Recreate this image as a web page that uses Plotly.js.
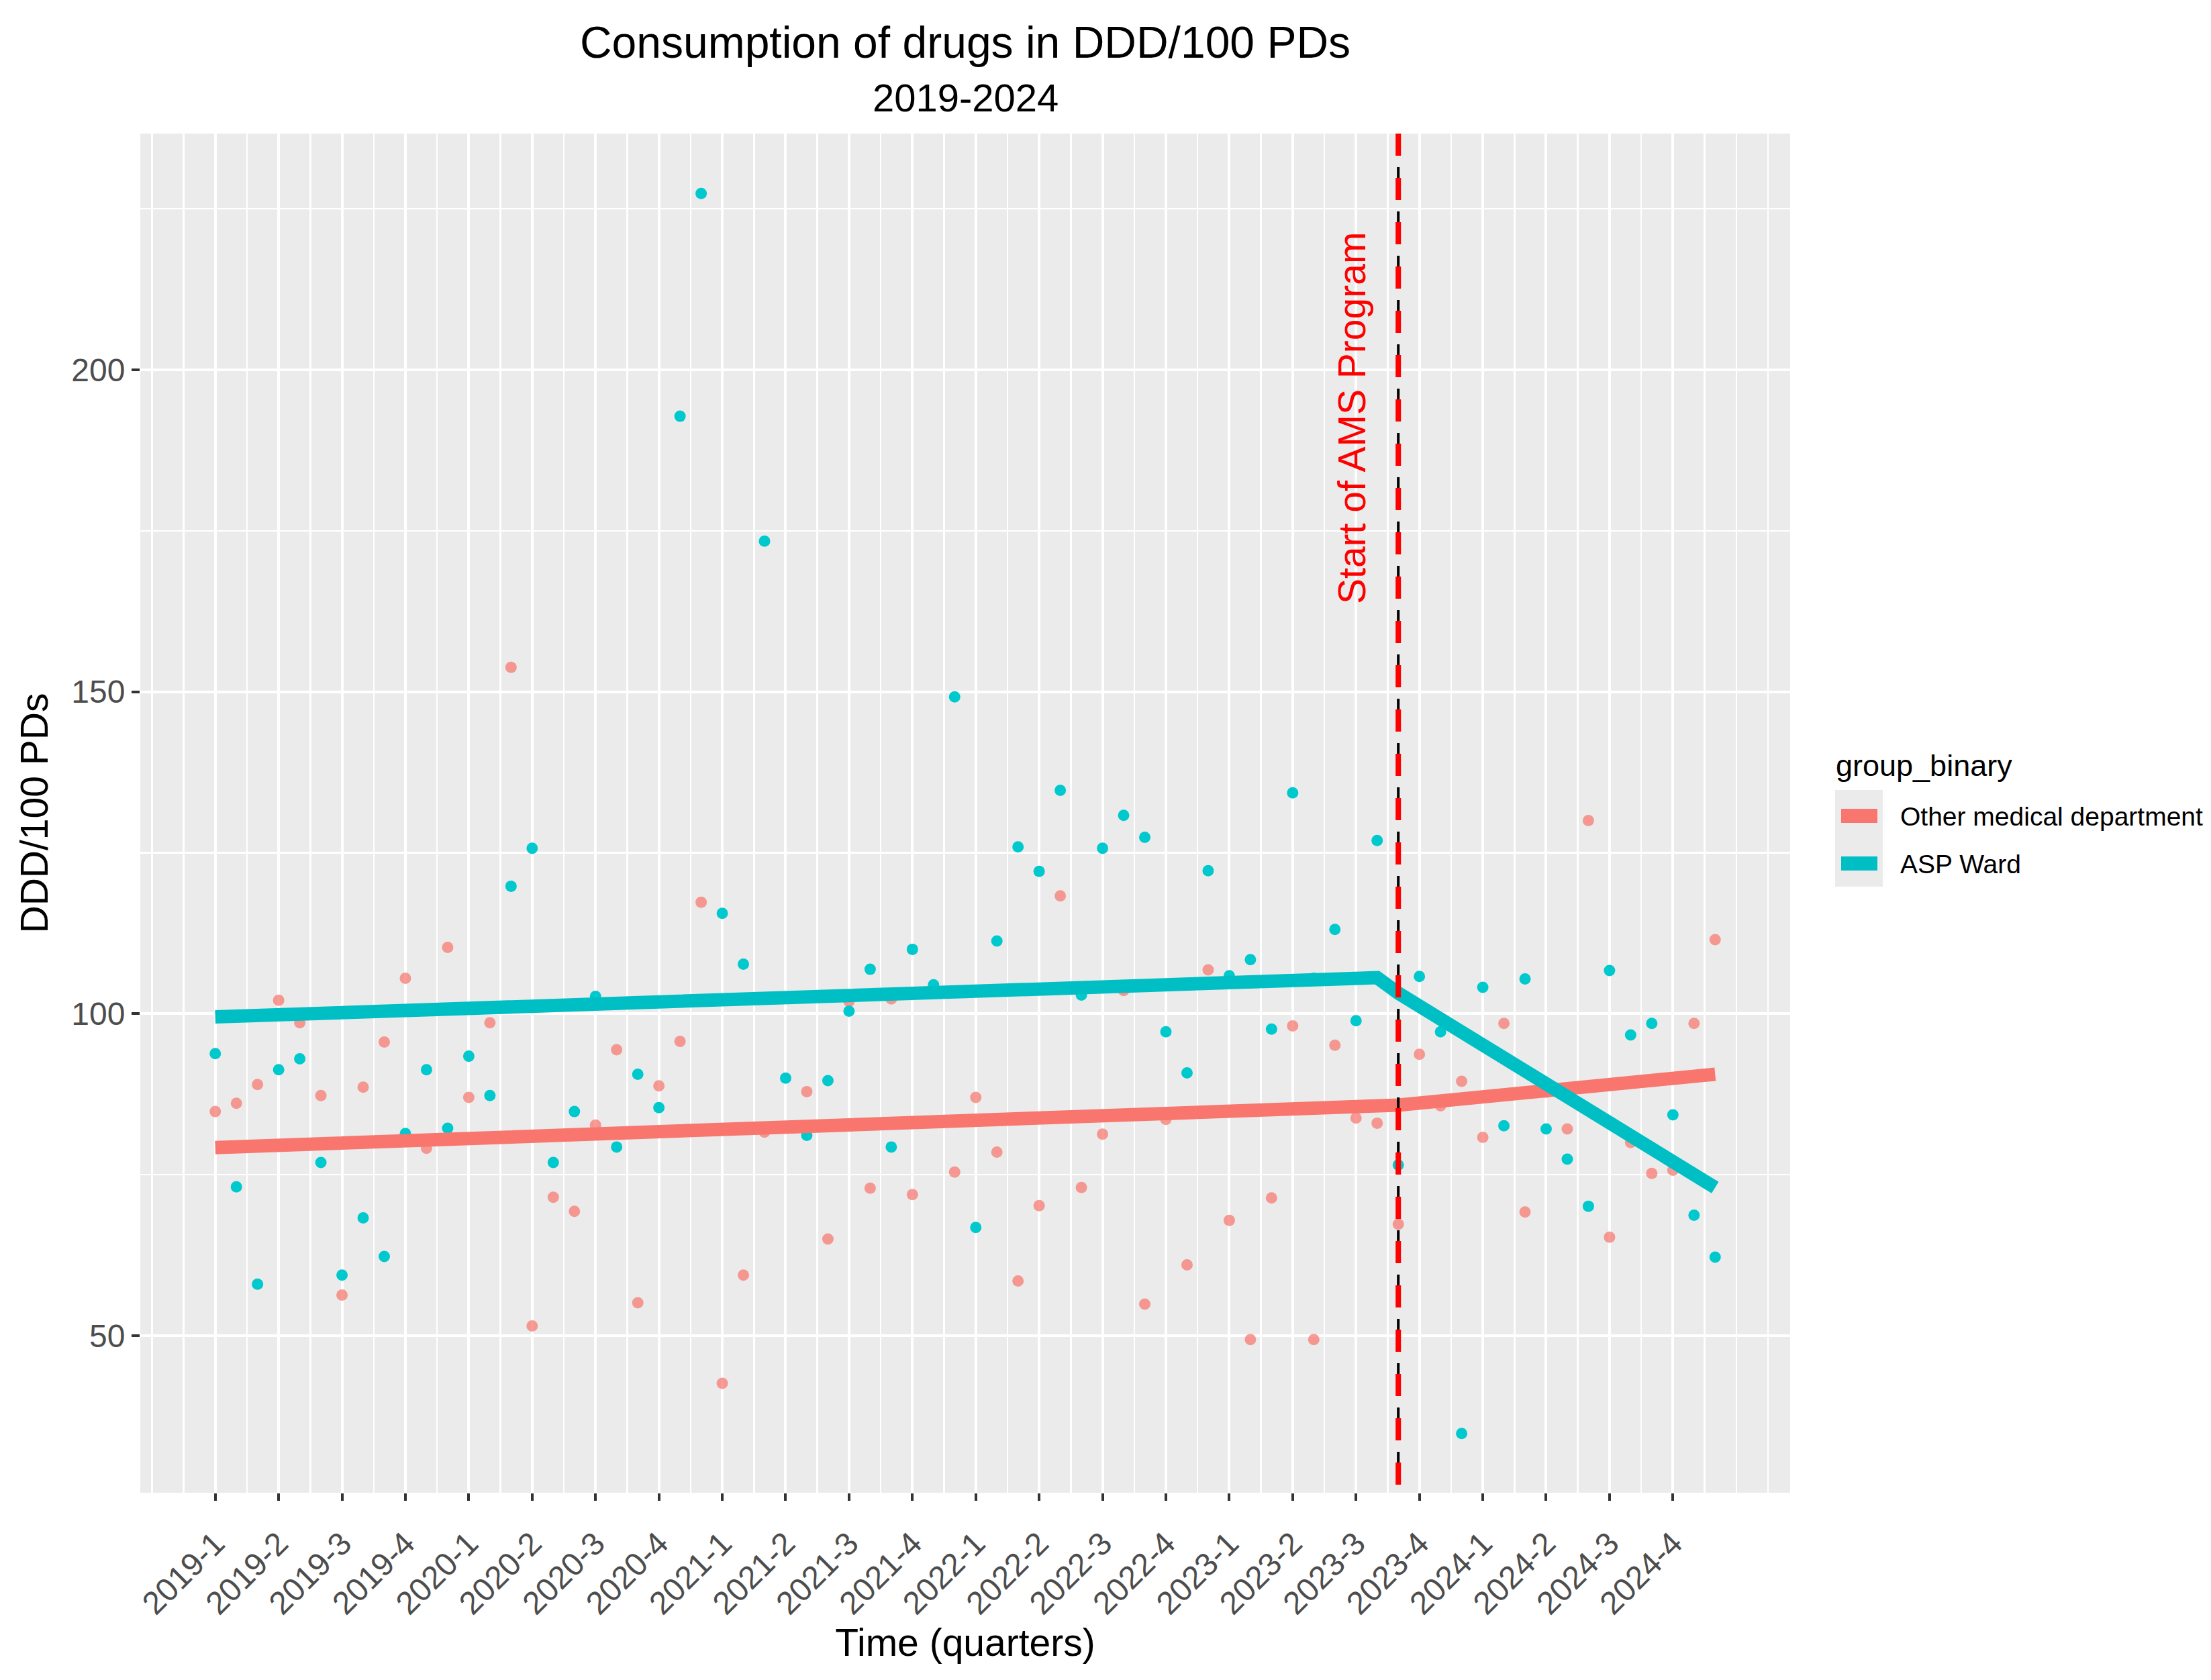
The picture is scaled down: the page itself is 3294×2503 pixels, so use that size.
<!DOCTYPE html>
<html>
<head>
<meta charset="utf-8">
<script src="https://cdn.plot.ly/plotly-3.0.1.min.js"></script>
<style>
  html, body { margin: 0; padding: 0; background: #ffffff; }
  #chart { width: 3294px; height: 2503px; }
</style>
</head>
<body>
<div id="chart"></div>
<script>
"use strict";

// month index, 0 = 2019 January ... 71 = 2024 December
var months = [0,1,2,3,4,5,6,7,8,9,10,11,12,13,14,15,16,17,18,19,20,21,22,23,
              24,25,26,27,28,29,30,31,32,33,34,35,36,37,38,39,40,41,42,43,44,45,46,47,
              48,49,50,51,52,53,54,55,56,57,58,59,60,61,62,63,64,65,66,67,68,69,70,71];

// quarter ticks
var quarterTicks = [0,3,6,9,12,15,18,21,24,27,30,33,36,39,42,45,48,51,54,57,60,63,66,69];
var quarterLabels = ["2019-1","2019-2","2019-3","2019-4","2020-1","2020-2","2020-3","2020-4",
                     "2021-1","2021-2","2021-3","2021-4","2022-1","2022-2","2022-3","2022-4",
                     "2023-1","2023-2","2023-3","2023-4","2024-1","2024-2","2024-3","2024-4"];

var groups = ["Other medical department", "ASP Ward"];

// DDD/100 PDs per month
var otherDept = [84.8,86.1,89.0,102.1,98.6,87.3,56.3,88.6,95.6,105.5,79.1,110.3,
                 87.0,98.6,153.8,51.5,71.5,69.3,82.7,94.4,55.1,88.8,95.7,117.3,
                 42.6,59.4,81.6,82.4,87.9,65.0,101.9,72.9,102.3,71.9,83.3,75.4,
                 87.0,78.5,58.5,70.2,118.3,73.0,81.3,103.6,54.9,83.6,61.0,106.8,
                 67.9,49.4,71.4,98.1,49.4,95.1,83.8,83.0,67.3,93.7,85.7,89.5,
                 80.8,98.5,69.2,87.8,82.1,130.0,65.3,80.0,75.2,75.7,98.5,111.5];

var aspWard = [93.8,73.1,58.0,91.3,93.0,76.9,59.4,68.3,62.3,81.4,91.3,82.2,
               93.4,87.3,119.8,125.7,76.9,84.8,102.7,79.3,90.6,85.4,192.8,227.4,
               115.6,107.7,173.4,90.0,81.1,89.6,100.4,106.9,79.3,110.0,104.5,149.2,
               66.8,111.3,125.9,122.1,134.7,102.9,125.7,130.8,127.4,97.2,90.8,122.2,
               105.9,108.4,97.6,134.3,105.5,113.1,98.9,126.9,76.5,105.8,97.2,34.8,
               104.1,82.6,105.4,82.1,77.4,70.1,106.7,96.7,98.5,84.3,68.7,62.2];

// segmented trend (fitted values at the segment ends)
var fitMonths = [0, 55, 56, 71];
var fitOther = [79.2, 85.5, 85.8, 90.6];
var fitAsp = [99.5, 105.6, 103.2, 73.0];

var amsStart = 56;
var amsLabel = "Start of AMS Program";

var W = 3294, H = 2503;
var plotL = 209, plotR = 2667, plotT = 199, plotB = 2224;
var xRange = [-3.55, 74.55];
var yRange = [25.6, 236.7];
var pxPerUnitY = (plotB - plotT) / (yRange[1] - yRange[0]);

function paperX(p) { return (p - plotL) / (plotR - plotL); }
function paperY(p) { return (plotB - p) / (plotB - plotT); }

var RED = "#F8766D", TEAL = "#00BFC4";
var FONT = "Liberation Sans, Arial, sans-serif";

var traces = [
  {
    type: "scatter", mode: "markers", x: months, y: otherDept, name: groups[0],
    marker: { color: "rgba(248,118,109,0.72)", size: 17, line: { width: 0 } },
    showlegend: false, hoverinfo: "skip"
  },
  {
    type: "scatter", mode: "markers", x: months, y: aspWard, name: groups[1],
    marker: { color: "#00C9CE", size: 17, line: { width: 0 } },
    showlegend: false, hoverinfo: "skip"
  },
  {
    type: "scatter", mode: "lines", x: fitMonths, y: fitOther, name: groups[0],
    line: { color: RED, width: 20 }, showlegend: false, hoverinfo: "skip"
  },
  {
    type: "scatter", mode: "lines", x: fitMonths, y: fitAsp, name: groups[1],
    line: { color: TEAL, width: 20 }, showlegend: false, hoverinfo: "skip"
  },
  // black dashes sit under the red ones, shifted half a dash
  {
    type: "scatter", mode: "lines", x: [amsStart, amsStart],
    y: [yRange[1] + 16 / pxPerUnitY, yRange[0]],
    line: { color: "#000000", width: 4, dash: "33px,33px" },
    showlegend: false, hoverinfo: "skip"
  },
  {
    type: "scatter", mode: "lines", x: [amsStart, amsStart],
    y: [yRange[1], yRange[0]],
    line: { color: "#FF0000", width: 8, dash: "33px,33px" },
    showlegend: false, hoverinfo: "skip"
  }
];

// hand drawn legend in ggplot style
var shapes = [
  { type: "rect", xref: "paper", yref: "paper", layer: "above",
    x0: paperX(2734), x1: paperX(2805), y0: paperY(1177), y1: paperY(1321),
    fillcolor: "#EBEBEB", line: { width: 0 } },
  { type: "rect", xref: "paper", yref: "paper", layer: "above",
    x0: paperX(2743), x1: paperX(2797), y0: paperY(1205), y1: paperY(1226),
    fillcolor: RED, line: { width: 0 } },
  { type: "rect", xref: "paper", yref: "paper", layer: "above",
    x0: paperX(2743), x1: paperX(2797), y0: paperY(1276), y1: paperY(1297),
    fillcolor: TEAL, line: { width: 0 } }
];

var annotations = [
  { text: "2019-2024", xref: "paper", yref: "paper", x: 0.5, y: paperY(145),
    xanchor: "center", yanchor: "middle", showarrow: false,
    font: { family: FONT, size: 58, color: "#000000" } },
  { text: amsLabel, xref: "x", yref: "y", x: 53.8, y: 192.5, textangle: -90,
    xanchor: "center", yanchor: "middle", showarrow: false,
    font: { family: FONT, size: 57, color: "#FF0000" } },
  { text: "group_binary", xref: "paper", yref: "paper", x: paperX(2733), y: paperY(1140),
    xanchor: "left", yanchor: "middle", showarrow: false,
    font: { family: FONT, size: 45, color: "#000000" } },
  { text: groups[0], xref: "paper", yref: "paper", x: paperX(2829), y: paperY(1216),
    xanchor: "left", yanchor: "middle", showarrow: false,
    font: { family: FONT, size: 39, color: "#000000" } },
  { text: groups[1], xref: "paper", yref: "paper", x: paperX(2829), y: paperY(1287),
    xanchor: "left", yanchor: "middle", showarrow: false,
    font: { family: FONT, size: 39, color: "#000000" } }
];

var layout = {
  width: W, height: H,
  margin: { l: plotL, r: W - plotR, t: plotT, b: H - plotB, pad: 0 },
  paper_bgcolor: "#FFFFFF",
  plot_bgcolor: "#EBEBEB",
  font: { family: FONT, color: "#000000" },
  title: {
    text: "Consumption of drugs in DDD/100 PDs",
    font: { family: FONT, size: 66, color: "#000000" },
    xref: "paper", x: 0.5, xanchor: "center",
    yref: "container", y: 1 - 63 / H, yanchor: "middle"
  },
  xaxis: {
    range: xRange, autorange: false, zeroline: false, showline: false,
    tickmode: "array", tickvals: quarterTicks, ticktext: quarterLabels,
    tickangle: -45, ticks: "outside", ticklen: 11, tickwidth: 4, tickcolor: "#333333",
    ticklabelstandoff: 16,
    tickfont: { family: FONT, size: 48, color: "#4D4D4D" },
    showgrid: true, gridcolor: "#FFFFFF", gridwidth: 4,
    minor: { tick0: 0, dtick: 1.5, showgrid: true, gridcolor: "#FFFFFF", gridwidth: 2.5, ticks: "" },
    title: { text: "Time (quarters)", standoff: 4,
             font: { family: FONT, size: 57, color: "#000000" } },
    automargin: false
  },
  yaxis: {
    range: yRange, autorange: false, zeroline: false, showline: false,
    tickmode: "array", tickvals: [50, 100, 150, 200],
    ticks: "outside", ticklen: 12, tickwidth: 4, tickcolor: "#333333",
    tickfont: { family: FONT, size: 48, color: "#4D4D4D" },
    showgrid: true, gridcolor: "#FFFFFF", gridwidth: 4,
    minor: { tick0: 0, dtick: 25, showgrid: true, gridcolor: "#FFFFFF", gridwidth: 2.5, ticks: "" },
    title: { text: "DDD/100 PDs", standoff: 16,
             font: { family: FONT, size: 57, color: "#000000" } },
    automargin: false
  },
  shapes: shapes,
  annotations: annotations,
  showlegend: false
};

Plotly.newPlot("chart", traces, layout, { staticPlot: true, displayModeBar: false });
</script>
</body>
</html>
